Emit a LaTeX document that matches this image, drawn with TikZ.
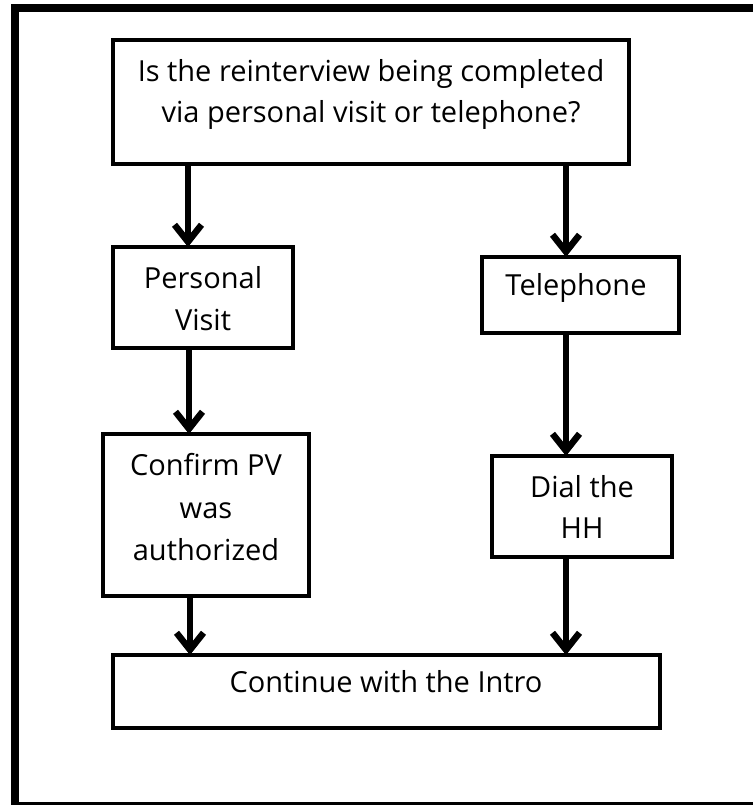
\documentclass[tikz,border=0pt]{standalone}
\usepackage{fontspec}
\setmainfont{Open Sans}
\usetikzlibrary{arrows.meta,calc}
\begin{document}
\begin{tikzpicture}[x=1pt,y=-1pt,
  box/.style={draw=black,line width=4pt,inner sep=0pt,outer sep=0pt,fill=white},
  txt/.style={anchor=base,inner sep=0pt,font=\fontsize{29}{42}\selectfont},
  arr/.style={line width=6pt,-{Straight Barb[length=17pt,width=27pt,line width=6.5pt]}}]
\useasboundingbox (0,0) rectangle (752,805);
\fill[white] (0,0) rectangle (752,805);
% outer frame (right side cropped off)
\draw[line width=8pt] (15,8) rectangle (780,806);
% boxes
\node[box,minimum width=516pt,minimum height=124pt] (top) at (371,102) {};
\node[box,minimum width=180pt,minimum height=101pt] (pv) at (203,297.5) {};
\node[box,minimum width=206pt,minimum height=162pt] (conf) at (206,515) {};
\node[box,minimum width=197pt,minimum height=76pt] (tel) at (580.5,295) {};
\node[box,minimum width=180pt,minimum height=101pt] (dial) at (582,506.5) {};
\node[box,minimum width=547pt,minimum height=73pt] (cont) at (386.5,691.5) {};
% texts
\node[txt] (t1a) at (371,82) {Is the reinterview being completed};
\node[txt] (t1b) at (371,123) {via personal visit or telephone?};
\node[txt] (t2a) at (203,288) {Personal};
\node[txt] (t2b) at (203,330) {Visit};
\node[txt] (t3a) at (206,475) {Confirm PV};
\node[txt] (t3b) at (206,518) {was};
\node[txt] (t3c) at (206,560) {authorized};
\node[txt] (t4) at (576,295) {Telephone};
\node[txt] (t5a) at (582,497) {Dial the};
\node[txt] (t5b) at (582,538) {HH};
\node[txt] (t6) at (386,692) {Continue with the Intro};
% connectors
\draw[arr] (188,0 |- top.south) -- (188,0 |- pv.north);
\draw[arr] (566,0 |- top.south) -- (566,0 |- tel.north);
\draw[arr] (189,0 |- pv.south) -- (189,0 |- conf.north);
\draw[arr] (566,0 |- tel.south) -- (566,0 |- dial.north);
\draw[arr] (190,0 |- conf.south) -- (190,0 |- cont.north);
\draw[arr] (566,0 |- dial.south) -- (566,0 |- cont.north);
\end{tikzpicture}
\end{document}
